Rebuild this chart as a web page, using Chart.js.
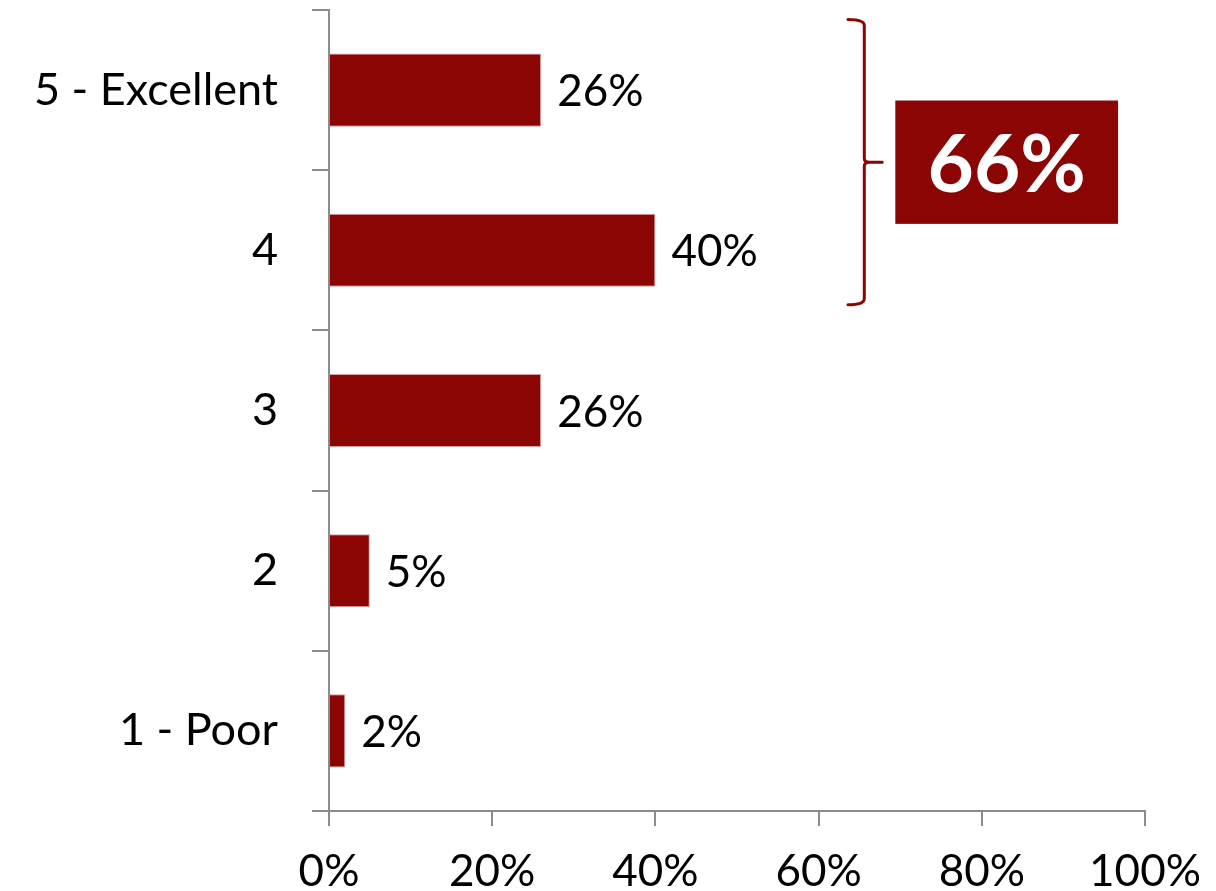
<!DOCTYPE html>
<html>
<head>
<meta charset="utf-8">
<script src="https://cdn.jsdelivr.net/npm/chart.js@4"></script>
<style>
  html, body { margin: 0; padding: 0; background: #fff; }
  #wrap { width: 1216px; height: 891px; }
</style>
</head>
<body>
<div id="wrap"><canvas id="ratingChart"></canvas></div>
<script>
// Rating distribution (share of responses, %)
const ratingLabels = ["5 - Excellent", "4", "3", "2", "1 - Poor"];
const ratingShares = [26, 40, 26, 5, 2];
const axisTicks = [0, 20, 40, 60, 80, 100];
const topBoxCount = 2; // "5" and "4" are grouped by the bracket

const barRed = "#8b0505";
const axisGrey = "#8c8c8c";
const fontFamily = "Lato, 'Open Sans', sans-serif";

// Percentage labels at the end of each bar
const valueLabels = {
  id: "valueLabels",
  afterDatasetsDraw(chart) {
    const { ctx } = chart;
    const meta = chart.getDatasetMeta(0);
    ctx.save();
    ctx.font = "44px " + fontFamily;
    ctx.fillStyle = "#000";
    ctx.textAlign = "left";
    ctx.textBaseline = "middle";
    meta.data.forEach((bar, i) => {
      ctx.fillText(ratingShares[i] + "%", bar.x + 16, bar.y + 2);
    });
    ctx.restore();
  },
};

// Curly bracket around the top two ratings plus the combined total box
const topBoxCallout = {
  id: "topBoxCallout",
  afterDatasetsDraw(chart) {
    const { ctx, scales } = chart;
    const x = scales.x;
    const y = scales.y;
    const band = y.getPixelForValue(1) - y.getPixelForValue(0);
    const top = y.getPixelForValue(0) - band * 0.44;
    const bottom = y.getPixelForValue(topBoxCount - 1) + band * 0.34;
    const mid = (top + bottom) / 2;

    const left = x.getPixelForValue(63.6);
    const spine = x.getPixelForValue(65.6);
    const tip = x.getPixelForValue(67.8);

    ctx.save();
    ctx.strokeStyle = barRed;
    ctx.lineWidth = 3;
    ctx.lineJoin = "round";
    ctx.lineCap = "round";
    ctx.beginPath();
    ctx.moveTo(left, top);
    ctx.quadraticCurveTo(spine, top, spine, top + 6);
    ctx.lineTo(spine, mid - 4);
    ctx.quadraticCurveTo(spine, mid, spine + 5, mid);
    ctx.lineTo(tip, mid);
    ctx.moveTo(spine + 5, mid);
    ctx.quadraticCurveTo(spine, mid, spine, mid + 4);
    ctx.lineTo(spine, bottom - 6);
    ctx.quadraticCurveTo(spine, bottom, left, bottom);
    ctx.stroke();

    const boxLeft = x.getPixelForValue(69.4);
    const boxRight = x.getPixelForValue(96.7);
    const boxH = band * 0.77;
    ctx.fillStyle = barRed;
    ctx.fillRect(boxLeft, mid - boxH / 2, boxRight - boxLeft, boxH);

    const total = ratingShares.slice(0, topBoxCount).reduce((a, b) => a + b, 0);
    ctx.fillStyle = "#fff";
    ctx.font = "bold 80px " + fontFamily;
    ctx.textAlign = "center";
    ctx.textBaseline = "middle";
    ctx.fillText(total + "%", (boxLeft + boxRight) / 2, mid + 4);
    ctx.restore();
  },
};

const ctx = document.getElementById("ratingChart").getContext("2d");
new Chart(ctx, {
  type: "bar",
  data: {
    labels: ratingLabels,
    datasets: [
      {
        data: ratingShares,
        backgroundColor: barRed,
        borderColor: "#d9a0a0",
        borderWidth: 1,
        barPercentage: 0.456,
        categoryPercentage: 1,
      },
    ],
  },
  options: {
    indexAxis: "y",
    responsive: true,
    maintainAspectRatio: false,
    animation: false,
    layout: { padding: { top: 10, right: 71, left: 0, bottom: 0 } },
    plugins: {
      legend: { display: false },
      tooltip: { enabled: false },
    },
    scales: {
      x: {
        min: 0,
        max: 100,
        afterBuildTicks(scale) {
          scale.ticks = axisTicks.map((v) => ({ value: v }));
        },
        afterFit(scale) {
          scale.height = 80;
          scale.paddingLeft = 0;
          scale.paddingRight = 0;
        },
        border: { color: axisGrey, width: 2 },
        grid: {
          drawOnChartArea: false,
          drawTicks: true,
          tickLength: 15,
          color: axisGrey,
          lineWidth: 2,
        },
        ticks: {
          color: "#000",
          padding: 19,
          maxRotation: 0,
          font: { family: fontFamily, size: 44 },
          callback: (v) => v + "%",
        },
      },
      y: {
        afterFit(scale) {
          scale.width = 329;
          scale.paddingTop = 0;
          scale.paddingBottom = 0;
        },
        border: { color: axisGrey, width: 2 },
        grid: {
          offset: true,
          drawOnChartArea: false,
          drawTicks: true,
          tickLength: 17,
          color: axisGrey,
          lineWidth: 2,
        },
        ticks: {
          color: "#000",
          padding: 34,
          font: { family: fontFamily, size: 45 },
        },
      },
    },
  },
  plugins: [valueLabels, topBoxCallout],
});
</script>
</body>
</html>
